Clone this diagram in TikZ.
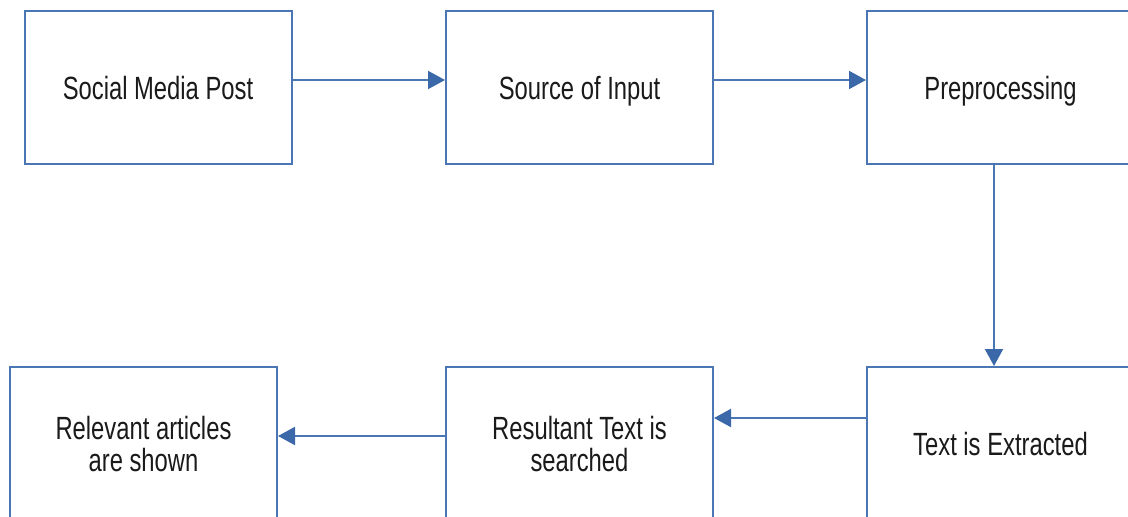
\documentclass[tikz,border=0pt]{standalone}
\usepackage{fontspec}
\setmainfont{Liberation Sans}
\usepackage{graphicx}
\usetikzlibrary{arrows.meta}
\definecolor{edge}{HTML}{4A76B3}
\definecolor{tip}{HTML}{3A68A8}
\definecolor{txt}{HTML}{1A1A1A}
\newcommand{\lbl}[1]{\raisebox{-4.5pt}[\height][\depth]{\scalebox{1}[1.35]{\begin{tabular}{@{}c@{}}#1\end{tabular}}}}
\begin{document}
\begin{tikzpicture}[x=1pt,y=-1pt,
  box/.style={draw=edge,line width=2pt,fill=white,rectangle,inner sep=0pt,
    minimum width=267pt,minimum height=153pt,text=txt,
    font=\fontsize{23.8}{22.2}\selectfont},
  arr/.style={draw=edge,line width=2pt,-{Triangle[length=17pt,width=18pt,color=tip]}}]
\useasboundingbox (0,0) rectangle (1128,517);
\clip (0,0) rectangle (1128,517);
\node[box] (b1) at (158,87.5) {\lbl{Social Media Post}};
\node[box] (b2) at (579.5,87.5) {\lbl{Source of Input}};
\node[box] (b3) at (1000.5,87.5) {\lbl{Preprocessing}};
\node[box] (b4) at (143.5,443.5) {\lbl{Relevant articles\\are shown}};
\node[box] (b5) at (579.5,443.5) {\lbl{Resultant Text is\\searched}};
\node[box] (b6) at (1000.5,443.5) {\lbl{Text is Extracted}};
\draw[arr] ([yshift=7.5pt]b1.east) -- ([yshift=7.5pt]b2.west);
\draw[arr] ([yshift=7.5pt]b2.east) -- ([yshift=7.5pt]b3.west);
\draw[arr] ([xshift=-6.5pt]b3.south) -- ([xshift=-6.5pt]b6.north);
\draw[arr] ([yshift=25.5pt]b6.west) -- ([yshift=25.5pt]b5.east);
\draw[arr] ([yshift=7.5pt]b5.west) -- ([yshift=7.5pt]b4.east);
\end{tikzpicture}
\end{document}
